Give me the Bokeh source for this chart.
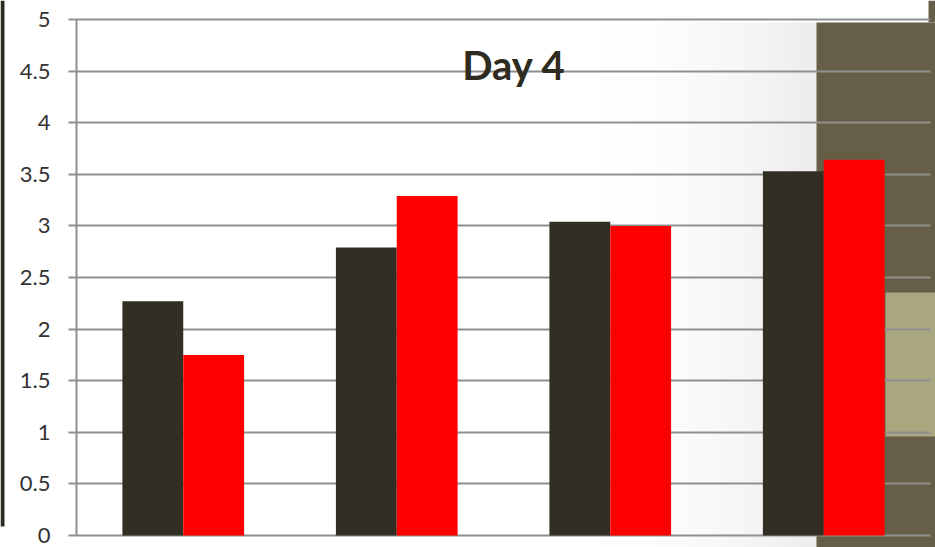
import numpy as np
from bokeh.plotting import figure
from bokeh.models import (Range1d, ColumnDataSource, BoxAnnotation, Label,
                          FixedTicker, NumeralTickFormatter)
from bokeh.embed import file_html
from bokeh.resources import INLINE

# Day 4 measurements, two series per group
groups = ["G1", "G2", "G3", "G4"]
series_dark = [2.27, 2.79, 3.04, 3.53]
series_red = [1.75, 3.29, 3.00, 3.64]
y_ticks = [0, 0.5, 1, 1.5, 2, 2.5, 3, 3.5, 4, 4.5, 5]
title_text = "Day 4"

DARK = "#322E24"
RED = "#FF0000"
GRID = "#8F8F8F"
BROWN = "#665E47"
KHAKI = "#A9A77F"

W, H = 935, 547
# plot frame covers the whole canvas; the value axis sits at x = 0
PX_X = 213.5   # pixels per group
PX_Y = 103.2   # pixels per unit
AX_LEFT, AX_RIGHT, AX_TOP, AX_BOTTOM = 76, 930, 19, 535
n = len(groups)
x_range = Range1d(-AX_LEFT / PX_X, n + (W - AX_RIGHT) / PX_X)
y_range = Range1d(-(H - AX_BOTTOM) / PX_Y, 5 + AX_TOP / PX_Y)

p = figure(width=W, height=H, output_backend="svg", toolbar_location=None,
           x_range=x_range, y_range=y_range, min_border=0)
p.min_border_left = p.min_border_right = 0
p.min_border_top = p.min_border_bottom = 0
p.outline_line_color = None
p.background_fill_color = "white"
p.border_fill_color = "white"

# slide decorations behind the chart (canvas pixel coordinates)
def deco(left, right, top, bottom, color):
    box = BoxAnnotation(left=left, right=right, top=top, bottom=bottom,
                        left_units="canvas", right_units="canvas",
                        top_units="canvas", bottom_units="canvas",
                        fill_color=color, fill_alpha=1, line_color=None,
                        level="image", propagate_hover=False)
    p.add_layout(box)

# soft grey shading toward the right-hand panel
n_strips = 32
x0, x1 = 560, 816
for i in range(n_strips):
    t = (i + 0.5) / n_strips
    g = int(round(255 - t * t * 19))
    deco(x0 + (x1 - x0) * i / n_strips, x0 + (x1 - x0) * (i + 1) / n_strips + 0.5,
         22, 547, "#%02x%02x%02x" % (g, g, g))
deco(816, 935, 22, 547, BROWN)
deco(928, 935, 0, 22, BROWN)
deco(885, 935, 292, 436, KHAKI)
deco(0, 4, 0, 526, "#2E2B22")

# grouped bars
idx = np.arange(n) + 0.5
bw = 0.285
src = ColumnDataSource(dict(x_dark=idx - bw / 2, x_red=idx + bw / 2,
                            dark=series_dark, red=series_red))
p.vbar(x="x_dark", top="dark", width=bw, source=src, fill_color=DARK,
       line_color=None)
p.vbar(x="x_red", top="red", width=bw, source=src, fill_color=RED,
       line_color=None)

# axes and grid
p.xaxis.visible = False
p.xgrid.visible = False
p.ygrid.grid_line_color = GRID
p.ygrid.grid_line_width = 2
p.ygrid.ticker = FixedTicker(ticks=y_ticks)
p.ygrid.bounds = (0, 5)
p.ygrid.cross_bounds = (0, n)

ax = p.yaxis[0]
ax.fixed_location = 0
ax.bounds = (0, 5)
ax.ticker = FixedTicker(ticks=y_ticks)
ax.formatter = NumeralTickFormatter(format="0.[0]")
ax.axis_line_color = GRID
ax.axis_line_width = 2
ax.major_tick_line_color = GRID
ax.major_tick_line_width = 2
ax.major_tick_out = 8
ax.major_tick_in = 0
ax.minor_tick_line_color = None
ax.major_label_text_font = "Lato"
ax.major_label_text_font_size = "22px"
ax.major_label_text_color = "#333333"
ax.major_label_standoff = 18

p.add_layout(Label(x=2.049, y=4.561, text=title_text, text_align="center",
                   text_baseline="alphabetic", text_font="Lato",
                   text_font_style="bold", text_font_size="40px",
                   text_color="#2E2B20"))

open("out.html", "w").write(file_html(p, INLINE))
